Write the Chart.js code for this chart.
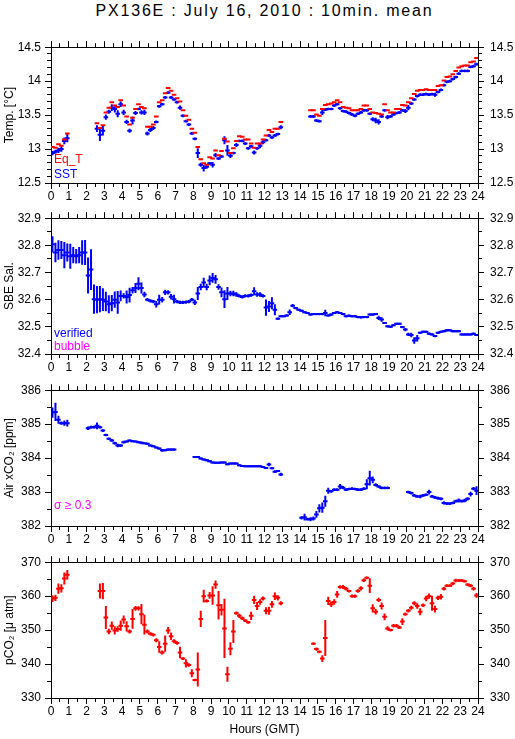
<!DOCTYPE html>
<html><head><meta charset="utf-8">
<script src="https://cdn.jsdelivr.net/npm/chart.js@4.4.1/dist/chart.umd.min.js"></script>
<style>
html,body{margin:0;padding:0;background:#fff;}
#wrap{position:relative;width:515px;height:739px;overflow:hidden;background:#fff;}
canvas{position:absolute;left:0;}
#title{position:absolute;left:51px;width:427px;top:2px;line-height:18px;text-align:center;font-size:16px;font-family:"Liberation Sans",Arial,sans-serif;letter-spacing:1.8px;color:#000;white-space:nowrap;}
</style></head><body>
<div id="wrap">
<div id="title">PX136E : July 16, 2010 : 10min. mean</div>
<canvas id="c0" width="515" height="171" style="top:34px"></canvas>
<canvas id="c1" width="515" height="171" style="top:205px"></canvas>
<canvas id="c2" width="515" height="171" style="top:377px"></canvas>
<canvas id="c3" width="515" height="190" style="top:549px"></canvas>
</div>
<script>
// ---- data: 10-minute slots (slot i centred at (i+0.5)/6 h), segments = [startSlot, values]
const hourTicks = [0,1,2,3,4,5,6,7,8,9,10,11,12,13,14,15,16,17,18,19,20,21,22,23,24];

const sstSegs = [
 [0, [12.94, 12.96, 12.98, 13.00, 13.12, 13.16]],
 [15, [13.30, 13.21, 13.27, 13.47, 13.55, 13.61, 13.59, 13.52, 13.66, 13.54,
       13.40, 13.27, 13.42, 13.53, 13.59, 13.54, 13.54, 13.23, 13.28, 13.31,
       13.40, 13.63, 13.66, 13.76, 13.83, 13.76, 13.73, 13.69, 13.61, 13.49,
       13.41, 13.36, 13.23, 13.15, 12.94, 12.77, 12.72, 12.74, 12.79, 12.77,
       12.91, 12.86, 12.89, 13.13, 12.98, 12.90, 12.94, 13.06, 13.12, 13.12,
       13.08, 13.01, 13.04, 12.95, 13.01, 13.05, 13.10, 13.13, 13.20, 13.17,
       13.20, 13.22, 13.32]],
 [87, [13.48, 13.48, 13.42, 13.41, 13.54, 13.58, 13.59, 13.59, 13.64, 13.66,
       13.60, 13.56, 13.55, 13.53, 13.51, 13.49, 13.52, 13.54, 13.57, 13.57,
       13.52, 13.44, 13.42, 13.40, 13.48, 13.57, 13.47, 13.48, 13.51, 13.53,
       13.54, 13.57, 13.56, 13.61, 13.67, 13.73, 13.78, 13.80, 13.80, 13.81,
       13.80, 13.81, 13.80, 13.84, 13.87, 13.94, 13.99, 14.00, 14.03, 14.06,
       14.11, 14.15, 14.15, 14.15, 14.21, 14.22, 14.25]]
];
const sstErrSegs = [
 [0, [0.03, 0.03, 0.04, 0.04, 0.05, 0.06]],
 [15, [0.05, 0.09, 0.07, 0.04, 0.03, 0.05, 0.05, 0.05, 0.04, 0.04,
       0.03, 0.03, 0.06, 0.03, 0.02, 0.03, 0.04, 0.03, 0.03, 0.03,
       0.02, 0.02, 0.02, 0.02, 0.02, 0.02, 0.02, 0.02, 0.03, 0.02,
       0.02, 0.02, 0.02, 0.02, 0.07, 0.03, 0.05, 0.03, 0.02, 0.04,
       0.03, 0.02, 0.02, 0.06, 0.08, 0.03, 0.02, 0.03, 0.02, 0.02,
       0.02, 0.02, 0.02, 0.03, 0.02, 0.04, 0.03, 0.02, 0.02, 0.02,
       0.02, 0.02, 0.03]],
 [87, [0.02, 0.02, 0.02, 0.02, 0.04, 0.02, 0.02, 0.02, 0.02, 0.02,
       0.02, 0.02, 0.02, 0.02, 0.02, 0.02, 0.02, 0.02, 0.02, 0.02,
       0.02, 0.03, 0.04, 0.04, 0.02, 0.02, 0.03, 0.02, 0.02, 0.02,
       0.02, 0.02, 0.03, 0.04, 0.02, 0.02, 0.02, 0.02, 0.02, 0.02,
       0.02, 0.02, 0.03, 0.02, 0.02, 0.02, 0.02, 0.02, 0.02, 0.02,
       0.02, 0.02, 0.02, 0.02, 0.02, 0.02, 0.02]]
];
const eqTSegs = [
 [0, [13.03, 13.02, 13.07, 13.05, 13.14, 13.23]],
 [15, [13.38, 13.31, 13.35, 13.54, 13.61, 13.69, 13.64, 13.62, 13.72, 13.64,
       13.48, 13.36, 13.46, 13.59, 13.66, 13.62, 13.60, 13.33, 13.33, 13.36,
       13.48, 13.69, 13.72, 13.82, 13.90, 13.86, 13.80, 13.75, 13.70, 13.57,
       13.49, 13.43, 13.30, 13.24, 13.03, 12.85, 12.79, 12.77, 12.88, 12.86,
       12.98, 12.91, 12.97, 13.15, 13.11, 12.94, 13.01, 13.12, 13.19, 13.18,
       13.14, 13.14, 13.08, 13.02, 13.08, 13.08, 13.14, 13.20, 13.28, 13.25,
       13.30, 13.30, 13.40]],
 [87, [13.57, 13.57, 13.51, 13.49, 13.59, 13.65, 13.66, 13.67, 13.69, 13.72,
       13.69, 13.62, 13.61, 13.60, 13.57, 13.57, 13.57, 13.59, 13.64, 13.64,
       13.59, 13.54, 13.53, 13.52, 13.51, 13.66, 13.57, 13.54, 13.54, 13.59,
       13.59, 13.65, 13.64, 13.69, 13.75, 13.81, 13.86, 13.87, 13.87, 13.88,
       13.87, 13.87, 13.87, 13.93, 13.94, 14.01, 14.06, 14.07, 14.10, 14.15,
       14.20, 14.22, 14.23, 14.23, 14.28, 14.29, 14.34]]
];

const salSegs = [
 [0, [32.804, 32.774, 32.783, 32.783, 32.764, 32.774, 32.760, 32.764, 32.760, 32.764,
      32.774, 32.774, 32.689, 32.711, 32.602, 32.600, 32.602, 32.600, 32.593, 32.583,
      32.587, 32.600, 32.590, 32.614, 32.614, 32.610, 32.617, 32.635, 32.643, 32.659,
      32.643, 32.619, 32.600, 32.596, 32.593, 32.583, 32.600, 32.600, 32.627, 32.627,
      32.611, 32.602, 32.593, 32.590, 32.590, 32.591, 32.593, 32.600, 32.590, 32.623,
      32.647, 32.663, 32.647, 32.671, 32.680, 32.675, 32.647, 32.627, 32.602, 32.623,
      32.623, 32.623, 32.619, 32.614, 32.610, 32.614, 32.614, 32.617, 32.631, 32.619,
      32.619, 32.614, 32.571, 32.575, 32.587, 32.563, 32.530, 32.539, 32.539, 32.542,
      32.554, 32.578, 32.569, 32.563, 32.559, 32.554, 32.551, 32.545, 32.547, 32.547,
      32.547, 32.547, 32.551, 32.542, 32.545, 32.551, 32.554, 32.551, 32.547, 32.539,
      32.541, 32.539, 32.539, 32.536, 32.535, 32.536, 32.536, 32.545, 32.545, 32.547,
      32.533, 32.527, 32.514, 32.502, 32.500, 32.506, 32.511, 32.511, 32.499, 32.490,
      32.472, 32.470, 32.450, 32.458, 32.478, 32.482, 32.482, 32.475, 32.472, 32.466,
      32.478, 32.482, 32.484, 32.487, 32.487, 32.484, 32.484, 32.484, 32.472, 32.472,
      32.472, 32.472, 32.475, 32.470]]
];
const salErrSegs = [
 [0, [0.030, 0.036, 0.036, 0.033, 0.048, 0.033, 0.046, 0.030, 0.027, 0.030,
      0.045, 0.046, 0.066, 0.075, 0.054, 0.050, 0.048, 0.042, 0.036, 0.033,
      0.030, 0.030, 0.042, 0.020, 0.010, 0.024, 0.027, 0.012, 0.018, 0.024,
      0.020, 0.010, 0.006, 0.006, 0.006, 0.012, 0.018, 0.010, 0.010, 0.008,
      0.010, 0.016, 0.006, 0.006, 0.006, 0.006, 0.006, 0.006, 0.010, 0.024,
      0.012, 0.018, 0.012, 0.018, 0.018, 0.016, 0.010, 0.018, 0.033, 0.024,
      0.010, 0.010, 0.008, 0.006, 0.006, 0.006, 0.006, 0.006, 0.015, 0.008,
      0.008, 0.006, 0.030, 0.020, 0.022, 0.020, 0.004, 0.004, 0.004, 0.004,
      0.010, 0.006, 0.004, 0.004, 0.004, 0.004, 0.004, 0.004, 0.004, 0.004,
      0.004, 0.004, 0.012, 0.004, 0.004, 0.004, 0.004, 0.004, 0.004, 0.004,
      0.004, 0.004, 0.004, 0.004, 0.004, 0.004, 0.004, 0.004, 0.004, 0.004,
      0.008, 0.008, 0.004, 0.004, 0.004, 0.004, 0.004, 0.004, 0.004, 0.006,
      0.006, 0.008, 0.012, 0.012, 0.004, 0.004, 0.004, 0.004, 0.004, 0.004,
      0.004, 0.004, 0.004, 0.004, 0.004, 0.004, 0.004, 0.004, 0.004, 0.004,
      0.004, 0.004, 0.004, 0.004]]
];

const xco2Segs = [
 [0, [385.34, 385.36, 385.13, 385.03, 385.03, 385.03]],
 [12, [384.88, 384.91, 384.91, 384.95, 384.91, 384.81, 384.68, 384.57, 384.52, 384.44,
       384.37, 384.37, 384.47, 384.49, 384.52, 384.50, 384.49, 384.47, 384.45, 384.44,
       384.42, 384.37, 384.35, 384.31, 384.28, 384.23, 384.23, 384.25, 384.25, 384.25]],
 [48, [384.03, 384.03, 383.99, 383.96, 383.94, 383.91, 383.87, 383.86, 383.86, 383.87,
       383.87, 383.82, 383.84, 383.84, 383.84, 383.79, 383.77, 383.76, 383.76, 383.76,
       383.76, 383.76, 383.76, 383.74, 383.71, 383.81, 383.70, 383.60, 383.62, 383.52]],
 [84, [382.24, 382.26, 382.20, 382.20, 382.22, 382.34, 382.52, 382.54, 382.73, 383.04,
       383.02, 383.07, 383.07, 383.16, 383.13, 383.07, 383.09, 383.10, 383.09, 383.07,
       383.07, 383.10, 383.23, 383.41, 383.36, 383.21, 383.16, 383.12, 383.12, 383.12]],
 [120, [383.00, 382.97, 382.90, 382.87, 382.87, 382.90, 382.92, 383.00, 382.87, 382.84,
        382.82, 382.80, 382.68, 382.66, 382.66, 382.68, 382.73, 382.75, 382.73, 382.75,
        382.80, 382.94, 383.10, 383.04]]
];
const xco2ErrSegs = [
 [0, [0.15, 0.27, 0.12, 0.05, 0.08, 0.10]],
 [12, [0.05, 0.04, 0.04, 0.10, 0.04, 0.04, 0.04, 0.04, 0.04, 0.04,
       0.05, 0.04, 0.04, 0.03, 0.03, 0.03, 0.03, 0.03, 0.04, 0.03,
       0.03, 0.03, 0.03, 0.03, 0.03, 0.04, 0.03, 0.03, 0.03, 0.03]],
 [48, [0.03, 0.03, 0.03, 0.03, 0.03, 0.03, 0.03, 0.03, 0.03, 0.03,
       0.03, 0.03, 0.03, 0.03, 0.03, 0.03, 0.03, 0.03, 0.03, 0.03,
       0.03, 0.03, 0.03, 0.03, 0.03, 0.05, 0.03, 0.04, 0.03, 0.05]],
 [84, [0.05, 0.10, 0.04, 0.06, 0.06, 0.10, 0.12, 0.15, 0.16, 0.09,
       0.04, 0.04, 0.04, 0.08, 0.05, 0.04, 0.04, 0.04, 0.04, 0.04,
       0.04, 0.04, 0.15, 0.22, 0.10, 0.05, 0.04, 0.04, 0.04, 0.04]],
 [120, [0.04, 0.04, 0.04, 0.04, 0.05, 0.04, 0.04, 0.07, 0.04, 0.04,
        0.04, 0.04, 0.05, 0.04, 0.04, 0.04, 0.04, 0.06, 0.04, 0.05,
        0.05, 0.07, 0.05, 0.13]]
];

const pco2Segs = [
 [0, [359.3, 359.5, 362.2, 362.3, 365.2, 366.3]],
 [16, [361.5, 361.5, 353.7, 349.6, 351.3, 349.9, 350.3, 351.3, 353.1, 351.1,
       349.6, 353.3, 356.4, 356.4, 354.7, 351.6, 349.6, 348.9, 348.6, 347.0,
       345.0, 343.4, 346.0, 349.9, 348.2, 346.7, 346.2, 343.4, 341.6, 340.2,
       339.7, 337.3, 335.3, 338.4, 353.3, 360.0, 358.6, 360.2, 360.2, 363.4,
       357.3, 356.0, 350.5, 337.0, 344.5, 349.6, 355.0, 354.2, 353.5, 352.8,
       352.3, 354.2, 358.9, 357.1, 358.3, 359.3, 355.7, 355.7, 357.6, 360.0,
       359.5, 357.9]],
 [88, [346.0, 344.4, 343.6, 341.6, 347.7, 358.6, 357.6, 358.3, 360.5, 362.7,
       362.7, 362.2, 361.5, 360.0, 360.0, 361.5, 362.3, 364.7, 365.4, 363.1,
       356.4, 355.4, 358.9, 357.1, 353.9, 350.5, 350.0, 351.3, 351.3, 350.8,
       352.5, 354.7, 355.7, 356.6, 357.9, 357.1, 355.4, 357.3, 359.3, 360.0,
       357.9, 356.2, 359.5, 359.8, 362.2, 363.1, 363.1, 363.7, 364.6, 364.6,
       364.6, 364.4, 363.4, 363.1, 362.2, 360.2]]
];
const pco2ErrSegs = [
 [0, [1.0, 0.9, 1.5, 1.2, 1.8, 1.4]],
 [16, [2.2, 2.4, 3.4, 0.8, 1.2, 1.2, 0.8, 1.5, 1.2, 1.5,
       0.6, 2.9, 0.7, 0.6, 3.0, 2.9, 0.6, 0.5, 0.5, 0.6,
       1.7, 0.6, 2.4, 1.0, 1.1, 0.6, 0.5, 1.7, 0.4, 1.2,
       0.5, 1.2, 0.4, 5.0, 2.4, 1.9, 0.5, 1.0, 2.7, 1.2,
       4.2, 1.7, 8.7, 2.2, 1.9, 3.4, 0.5, 0.6, 0.5, 0.4,
       0.4, 1.2, 1.2, 1.2, 0.8, 0.6, 1.0, 1.2, 1.0, 1.1,
       0.8, 0.6]],
 [88, [0.4, 0.5, 0.4, 1.0, 5.3, 1.2, 0.8, 0.8, 1.0, 0.5,
       0.6, 0.5, 0.4, 0.5, 0.5, 0.5, 0.6, 0.5, 0.4, 2.2,
       1.2, 0.8, 0.6, 1.0, 1.0, 0.6, 0.4, 0.5, 0.5, 0.5,
       1.0, 0.5, 0.5, 0.6, 0.6, 0.8, 1.0, 0.5, 0.8, 0.8,
       2.2, 1.0, 0.6, 0.8, 0.5, 0.4, 0.4, 0.5, 0.5, 0.4,
       0.4, 0.4, 0.4, 0.5, 0.5, 0.7]]
];

// axis ranges [min, max, labelStep, minorStep]
const tempAxis = [12.5, 14.5, 0.5, 0.1];
const salAxis  = [32.4, 32.9, 0.1, 0.05];
const xco2Axis = [382, 386, 1, 0.5];
const pco2Axis = [330, 370, 10, 5];
const hourAxis = [0, 24, 1, 0.5];

// ---- helpers
const FONT = '"Liberation Sans", Arial, Helvetica, sans-serif';
const SLOTS = 144;
const hours = Array.from({length: SLOTS}, (_, i) => (i + 0.5) / 6);
function expand(segs) {
  const a = new Array(SLOTS).fill(null);
  segs.forEach(([s, vals]) => vals.forEach((v, i) => { a[s + i] = v; }));
  return a;
}
function crossDatasets(vals, errs, color) {
  const pts = [], bars = [];
  vals.forEach((v, i) => {
    if (v == null) return;
    const h = hours[i];
    pts.push({x: h, y: v});
    if (errs && errs[i] != null) {
      bars.push({x: h, y: v - errs[i]}, {x: h, y: v + errs[i]}, {x: h, y: null});
    }
  });
  const out = [];
  if (bars.length) out.push({
    type: 'line', data: bars, showLine: true, spanGaps: false, fill: false,
    borderColor: color, borderWidth: 2, borderCapStyle: 'butt', tension: 0,
    pointRadius: 0, pointHoverRadius: 0
  });
  out.push({
    type: 'scatter', data: pts, showLine: false, pointStyle: 'line',
    pointRadius: 2.3, pointHoverRadius: 2.3, pointBorderWidth: 2, pointHoverBorderWidth: 2,
    pointBorderColor: color, pointBackgroundColor: color, borderColor: color
  });
  return out;
}
function fmt(v) { return String(Number(v.toFixed(3))); }
function alignPx(p) { return Math.round(p - 0.5) + 0.5; }

function makePanel(id, axis, yTitle, series, notes, isLast) {
  const cv = document.getElementById(id);
  const bottomH = cv.height - 12 - 137;
  const tickFont = {family: FONT, size: 12};
  const [ymin, ymax, ystep, yminor] = axis;
  const [xmin, xmax, xstep, xminor] = hourAxis;
  const datasets = [];
  series.forEach(s => datasets.push(...crossDatasets(s.vals, s.errs, s.color)));

  const minorPlugin = {
    id: 'minor_' + id,
    afterDraw(chart) {
      const ctx = chart.ctx, a = chart.chartArea;
      const sx = chart.scales.x, sy = chart.scales.y;
      ctx.save();
      ctx.strokeStyle = '#000'; ctx.lineWidth = 1;
      ctx.beginPath();
      const nx = Math.round((xmax - xmin) / xminor);
      for (let i = 0; i <= nx; i++) {
        const p = alignPx(sx.getPixelForValue(xmin + i * xminor));
        ctx.moveTo(p, a.bottom); ctx.lineTo(p, a.bottom + 4);
        ctx.moveTo(p, a.top); ctx.lineTo(p, a.top - 4);
      }
      const ny = Math.round((ymax - ymin) / yminor);
      for (let i = 0; i <= ny; i++) {
        const p = alignPx(sy.getPixelForValue(ymin + i * yminor));
        ctx.moveTo(a.left - 4, p); ctx.lineTo(a.left, p);
        ctx.moveTo(a.right, p); ctx.lineTo(a.right + 4, p);
      }
      ctx.stroke();
      ctx.font = '12px ' + FONT;
      ctx.textBaseline = 'middle'; ctx.textAlign = 'left';
      notes.forEach(n => { ctx.fillStyle = n.color; ctx.fillText(n.text, a.left + 3, a.top + n.dy); });
      ctx.restore();
    }
  };

  const yBase = (pos) => ({
    type: 'linear', position: pos, min: ymin, max: ymax,
    ticks: {stepSize: ystep, color: '#000', font: tickFont, padding: pos === 'left' ? 4 : 6,
            callback: v => fmt(v)},
    grid: {drawOnChartArea: false, drawTicks: true, tickLength: 6, tickWidth: 1, tickColor: '#000'},
    border: {display: true, color: '#000', width: 1}
  });
  const yL = yBase('left');
  yL.title = {display: true, text: yTitle, color: '#000', font: {family: FONT, size: 12}, padding: {top: 2, bottom: 0}};
  yL.afterFit = s => { s.width = 51; };
  const yR = yBase('right');
  yR.afterFit = s => { s.width = 37; };

  const xB = {
    type: 'linear', position: 'bottom', min: xmin, max: xmax, offset: false,
    afterBuildTicks: s => { s.ticks = hourTicks.map(v => ({value: v})); },
    ticks: {stepSize: xstep, autoSkip: false, maxRotation: 0, minRotation: 0, color: '#000', font: tickFont, padding: 0,
            callback: v => String(v)},
    grid: {drawOnChartArea: false, drawTicks: true, tickLength: 6, tickWidth: 1, tickColor: '#000'},
    border: {display: true, color: '#000', width: 1},
    afterFit: s => { s.height = bottomH; }
  };
  if (isLast) xB.title = {display: true, text: 'Hours (GMT)', color: '#000', font: {family: FONT, size: 12}, padding: {top: 0, bottom: 2}};
  const xT = {
    type: 'linear', position: 'top', min: xmin, max: xmax, offset: false,
    afterBuildTicks: s => { s.ticks = hourTicks.map(v => ({value: v})); },
    ticks: {display: false},
    grid: {drawOnChartArea: false, drawTicks: true, tickLength: 6, tickWidth: 1, tickColor: '#000'},
    border: {display: true, color: '#000', width: 1},
    afterFit: s => { s.height = 12; }
  };

  return new Chart(cv, {
    type: 'scatter',
    data: {datasets},
    options: {
      responsive: false, animation: false, devicePixelRatio: 1,
      layout: {padding: 0},
      plugins: {legend: {display: false}, tooltip: {enabled: false}, title: {display: false}},
      events: [],
      scales: {x: xB, x2: xT, y: yL, y2: yR}
    },
    plugins: [minorPlugin]
  });
}

const RED = '#ff0000', BLUE = '#0000ff', MAG = '#ff00ff';
makePanel('c0', tempAxis, 'Temp. [°C]',
  [{vals: expand(eqTSegs), errs: null, color: RED},
   {vals: expand(sstSegs), errs: expand(sstErrSegs), color: BLUE}],
  [{text: 'Eq_T', color: RED, dy: 112}, {text: 'SST', color: BLUE, dy: 127}], false);
makePanel('c1', salAxis, 'SBE Sal.',
  [{vals: expand(salSegs), errs: expand(salErrSegs), color: BLUE}],
  [{text: 'verified', color: BLUE, dy: 115}, {text: 'bubble', color: MAG, dy: 128}], false);
makePanel('c2', xco2Axis, 'Air xCO₂ [ppm]',
  [{vals: expand(xco2Segs), errs: expand(xco2ErrSegs), color: BLUE}],
  [{text: 'σ ≥ 0.3', color: MAG, dy: 115}], false);
makePanel('c3', pco2Axis, 'pCO₂ [μ atm]',
  [{vals: expand(pco2Segs), errs: expand(pco2ErrSegs), color: RED}],
  [], true);
</script>
</body></html>
